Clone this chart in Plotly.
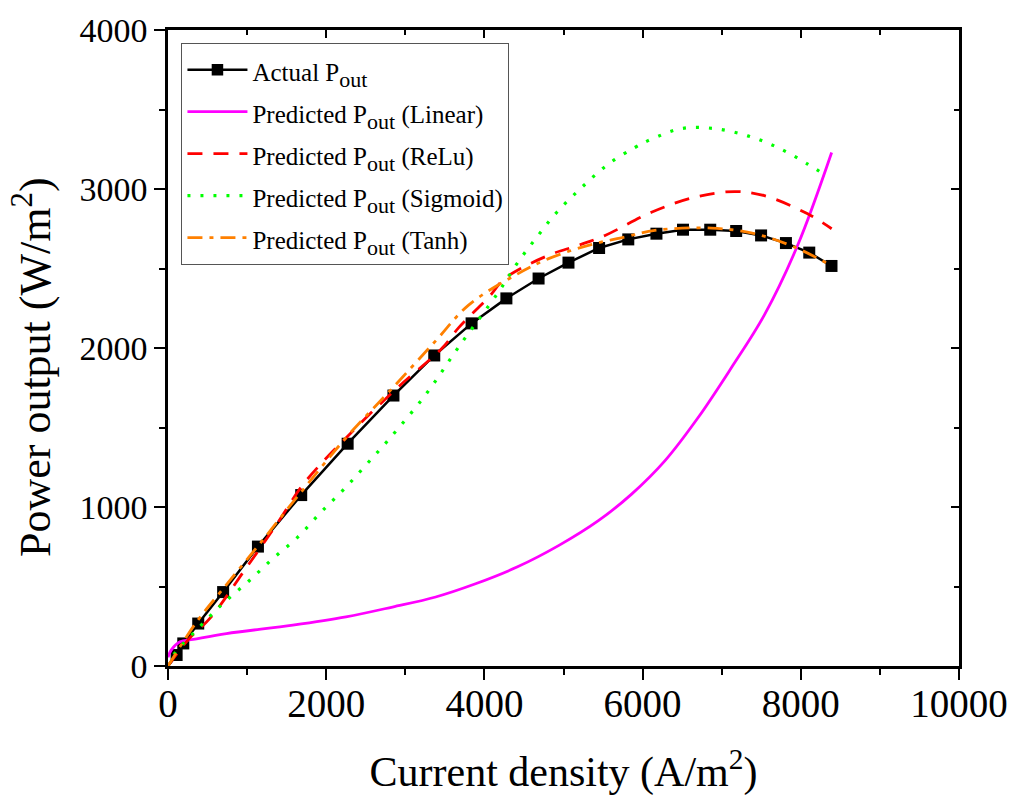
import plotly.graph_objects as go

# Actual P_out
actual_x = [0, 109, 193, 382, 697, 1137, 1684, 2271, 2850, 3366, 3838, 4278, 4685, 5063, 5450, 5819,
            6175, 6511, 6855, 7183, 7498, 7812, 8107, 8388]
actual_y = [0, 69, 142, 267, 465, 751, 1075, 1398, 1701, 1953, 2155, 2312, 2437, 2537, 2629, 2683,
            2719, 2744, 2744, 2736, 2708, 2660, 2600, 2516]

# Predicted (Linear)
lin_x = [0, 40, 151, 319, 739, 1578, 2250, 2838, 3384, 3888, 4412, 4937, 5441, 5861, 6281, 6700,
         7120, 7540, 7960, 8390]
lin_y = [55, 100, 152, 167, 204, 257, 309, 371, 434, 517, 622, 757, 914, 1081, 1290, 1561,
         1874, 2208, 2646, 3230]

# Predicted (ReLu)
relu_x = [0, 252, 546, 966, 1385, 1721, 2334, 2922, 3467, 3678, 4055, 4265, 4811, 5189, 5525, 6112,
          6659, 7162, 7540, 8086, 8390]
relu_y = [0, 163, 309, 601, 900, 1150, 1477, 1760, 2000, 2130, 2320, 2440, 2583, 2646, 2708, 2854,
          2948, 2984, 2958, 2844, 2750]

# Predicted (Sigmoid)
sig_x = [0, 84, 399, 693, 1008, 1322, 1637, 1931, 2225, 2519, 2792, 3258, 3678, 4181, 4412, 4664,
         4916, 5231, 5567, 5903, 6112, 6490, 6910, 7330, 7708, 8086, 8300]
sig_y = [0, 79, 246, 392, 528, 674, 809, 966, 1112, 1273, 1425, 1707, 2009, 2354, 2531, 2698,
         2854, 3010, 3157, 3261, 3313, 3380, 3380, 3334, 3261, 3157, 3090]

# Predicted (Tanh)
tanh_x = [0, 361, 697, 1159, 1662, 2250, 2838, 3384, 3800, 4391, 4811, 5315, 5777, 6155, 6868,
          7414, 7918, 8380]
tanh_y = [0, 277, 486, 768, 1081, 1435, 1748, 2045, 2270, 2458, 2562, 2646, 2698, 2740, 2754,
          2719, 2635, 2520]

x_ticks = [0, 2000, 4000, 6000, 8000, 10000]
x_ticktext = ["0", "2000", "4000", "6000", "8000", "10000"]
y_ticks = [0, 1000, 2000, 3000, 4000]

marker_sizes = [0] + [12] * (len(actual_x) - 1)

FONT = "Liberation Serif, Times New Roman, serif"


def leg(label):
    return ("<span style='font-size:25px'>" + label.replace(
        "Pout", "P<sub><span style='font-size:22px'>out</span></sub>") + "</span>")


fig = go.Figure()
fig.add_trace(go.Scatter(x=actual_x, y=actual_y, mode="lines+markers",
                         name=leg("Actual Pout"),
                         line=dict(color="black", width=2.5),
                         marker=dict(symbol="square", size=marker_sizes, color="black", opacity=1,
                                     line=dict(width=0)),
                         cliponaxis=False))
fig.add_trace(go.Scatter(x=lin_x, y=lin_y, mode="lines", name=leg("Predicted Pout (Linear)"),
                         line=dict(color="#ff00ff", width=2.8, shape="spline")))
fig.add_trace(go.Scatter(x=relu_x, y=relu_y, mode="lines", name=leg("Predicted Pout (ReLu)"),
                         line=dict(color="#ff0000", width=2.8, dash="15px,11px", shape="spline")))
fig.add_trace(go.Scatter(x=sig_x, y=sig_y, mode="lines", name=leg("Predicted Pout (Sigmoid)"),
                         line=dict(color="#00ff00", width=3.2, dash="3px,10px", shape="spline")))
fig.add_trace(go.Scatter(x=tanh_x, y=tanh_y, mode="lines", name=leg("Predicted Pout (Tanh)"),
                         line=dict(color="#ff8000", width=2.8, dash="15px,7px,4px,7px", shape="spline")))

# dummy trace for mirrored axes
fig.add_trace(go.Scatter(x=[None], y=[None], xaxis="x2", yaxis="y2", showlegend=False, hoverinfo="skip"))

fig.update_layout(
    width=1020, height=806,
    margin=dict(l=168, r=59, t=26, b=140),
    paper_bgcolor="white", plot_bgcolor="white",
    font=dict(family=FONT, color="black"),
    showlegend=True,
    legend=dict(x=0.017, y=0.98, xanchor="left", yanchor="top",
                bgcolor="white", bordercolor="#555555", borderwidth=1,
                font=dict(family=FONT, size=30, color="black"),
                itemwidth=60, tracegroupgap=0),
    xaxis=dict(range=[0, 10000], tickvals=x_ticks, ticktext=x_ticktext,
               showgrid=False, zeroline=False, showline=True, linecolor="black", linewidth=2.5,
               ticks="outside", ticklen=11, tickwidth=2, tickcolor="black",
               minor=dict(dtick=1000, ticks="outside", ticklen=6, tickwidth=2, tickcolor="black"),
               tickfont=dict(family=FONT, size=39), ticklabelstandoff=-10,
               title=dict(text="Current density (A/m<sup>2</sup>)", font=dict(family=FONT, size=42), standoff=34)),
    yaxis=dict(range=[0, 4000], tickvals=y_ticks,
               showgrid=False, zeroline=False, showline=True, linecolor="black", linewidth=2.5,
               ticks="outside", ticklen=11, tickwidth=2, tickcolor="black",
               minor=dict(dtick=500, ticks="outside", ticklen=6, tickwidth=2, tickcolor="black"),
               tickfont=dict(family=FONT, size=34)),
    xaxis2=dict(overlaying="x", side="top", range=[0, 10000], tickvals=x_ticks,
                showgrid=False, zeroline=False, showline=True, linecolor="black", linewidth=2.5,
                ticks="inside", ticklen=8, tickwidth=2, tickcolor="black", showticklabels=False,
                minor=dict(dtick=1000, ticks="inside", ticklen=5, tickwidth=2, tickcolor="black")),
    yaxis2=dict(overlaying="y", side="right", range=[0, 4000], tickvals=y_ticks,
                showgrid=False, zeroline=False, showline=True, linecolor="black", linewidth=2.5,
                ticks="inside", ticklen=8, tickwidth=2, tickcolor="black", showticklabels=False,
                minor=dict(dtick=500, ticks="inside", ticklen=5, tickwidth=2, tickcolor="black")),
    annotations=[dict(text="Power output (W/m<sup>2</sup>)", textangle=-90, showarrow=False,
                      xref="paper", yref="paper", x=-0.172, y=0.47, xanchor="center", yanchor="middle",
                      font=dict(family=FONT, size=44, color="black"))],
)

fig.write_html("out.html")
